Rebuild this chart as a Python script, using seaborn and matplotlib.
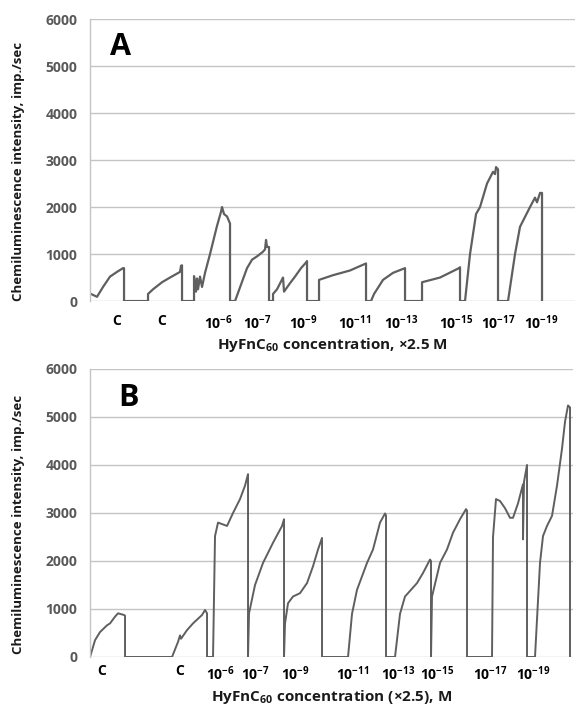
import matplotlib

matplotlib.use("Agg")

import matplotlib.pyplot as plt
import seaborn as sns

# Panel A trace: time (arbitrary units) and chemiluminescence intensity (imp./sec)
a_time = [0, 7, 13, 20, 27, 33, 34, 34, 58, 58, 63, 72, 80, 90, 91, 92, 92,
          104, 104, 106, 107, 108, 110, 112, 115, 120, 127, 131, 132, 134, 137, 139, 140, 140,
          145, 157, 162, 167, 170, 173, 175, 176, 177, 179, 179,
          183, 183, 187, 193, 194, 200, 205, 211, 216, 217, 217,
          229, 229, 243, 260, 276, 276,
          281, 284, 293, 303, 315, 315,
          332, 332, 350, 369, 370, 370,
          375, 380, 386, 390, 397, 403, 405, 406, 408, 408,
          418, 425, 430, 440, 445, 447, 450, 452, 452]
a_signal = [160, 90, 300, 520, 620, 700, 700, 0, 0, 150, 250, 400, 500, 620, 750, 760, 0,
            0, 530, 200, 480, 250, 520, 300, 600, 1000, 1600, 1900, 2000, 1850, 1800, 1700, 1650, 0,
            0, 700, 880, 950, 1000, 1050, 1100, 1300, 1150, 1150, 0,
            0, 150, 250, 500, 200, 380, 520, 700, 820, 850, 0,
            0, 450, 550, 650, 800, 0,
            0, 150, 450, 600, 700, 0,
            0, 400, 500, 700, 720, 0,
            0, 1000, 1850, 2000, 2500, 2750, 2700, 2850, 2800, 0,
            0, 1000, 1580, 2000, 2200, 2100, 2300, 2300, 0]

# Panel B trace
b_time = [0, 5, 10, 17, 20, 25, 28, 34, 35, 35,
          82, 88, 90, 91, 97, 103, 112, 115, 117, 117,
          123, 125, 128, 137, 143, 150, 155, 158, 158,
          159, 165, 173, 183, 192, 194, 194,
          195, 198, 203, 210, 217, 223, 228, 232, 232,
          258, 262, 267, 277, 283, 290, 295, 296, 296,
          305, 310, 315, 327, 333, 340, 341, 341,
          342, 350, 357, 363, 370, 376, 377, 377,
          402, 403, 406, 410, 415, 420, 423, 428, 433, 433, 434, 437, 437,
          445, 450, 453, 457, 462, 467, 472, 475, 478, 480, 480]
b_signal = [0, 350, 520, 660, 700, 840, 910, 875, 860, 0,
            0, 315, 450, 380, 560, 700, 875, 980, 910, 0,
            0, 2520, 2800, 2730, 3000, 3290, 3570, 3810, 0,
            910, 1500, 1960, 2380, 2730, 2870, 0,
            700, 1120, 1260, 1330, 1540, 1890, 2240, 2480, 0,
            0, 900, 1400, 1960, 2240, 2800, 2990, 2950, 0,
            0, 900, 1260, 1540, 1750, 2030, 2000, 0,
            1260, 1960, 2240, 2590, 2870, 3080, 3050, 0,
            0, 2500, 3290, 3250, 3100, 2900, 2900, 3200, 3600, 2450, 3650, 4000, 0,
            0, 1960, 2520, 2730, 2940, 3570, 4340, 4900, 5240, 5200, 0]

a_tick_pos = [27, 72, 128, 167, 213, 265, 311, 366, 408, 451]
a_tick_labels = ["C", "C", r"10$^{\mathbf{-6}}$", r"10$^{\mathbf{-7}}$", r"10$^{\mathbf{-9}}$",
                 r"10$^{\mathbf{-11}}$", r"10$^{\mathbf{-13}}$", r"10$^{\mathbf{-15}}$",
                 r"10$^{\mathbf{-17}}$", r"10$^{\mathbf{-19}}$"]
b_tick_pos = [12, 90, 130, 165, 205, 263, 308, 347, 400, 443]
b_tick_labels = a_tick_labels

y_ticks = [0, 1000, 2000, 3000, 4000, 5000, 6000]

LINE = "#5f5f5f"
GRID = "#c4c4c4"


def style_axes(ax, xmax, ticks, labels, xlabel, letter, letter_xy, tick_pad, label_pad):
    ax.set_xlim(0, xmax)
    ax.set_ylim(0, 6000)
    ax.set_yticks(y_ticks)
    ax.set_yticklabels([str(v) for v in y_ticks], color="#595959", fontweight="bold", fontsize=10)
    ax.set_xticks(ticks)
    ax.set_xticklabels(labels, fontweight="bold", fontsize=10, color="black")
    ax.tick_params(axis="x", length=0, pad=tick_pad)
    ax.tick_params(axis="y", length=4, width=1, color=GRID, pad=5)
    ax.grid(axis="y", color=GRID, lw=1)
    ax.grid(axis="x", visible=False)
    for side in ["top", "right", "bottom"]:
        ax.spines[side].set_visible(False)
    ax.spines["left"].set_color(GRID)
    ax.spines["left"].set_linewidth(1)
    ax.set_xlabel(xlabel, fontweight="bold", fontsize=11, color="#1a1a1a", labelpad=label_pad)
    ax.set_ylabel("Chemiluminescence intensity, imp./sec", fontweight="bold", fontsize=9.5,
                  color="#1a1a1a", va="center")
    ax.yaxis.set_label_coords(-0.148, 0.46)
    ax.text(letter_xy[0], letter_xy[1], letter, transform=ax.transAxes, fontsize=22,
            fontweight="bold", ha="left", va="top", color="black")


def main() -> None:
    sns.set_theme(style="white")
    plt.rcParams["font.family"] = ["Open Sans", "DejaVu Sans"]
    plt.rcParams["mathtext.fontset"] = "custom"
    plt.rcParams["mathtext.rm"] = "Open Sans"
    plt.rcParams["mathtext.bf"] = "Open Sans:bold"

    fig = plt.figure(figsize=(5.76, 7.05), dpi=100)
    ax_a = fig.add_axes([0.1563, 0.573, 0.842, 0.40])
    ax_b = fig.add_axes([0.1563, 0.0681, 0.8385, 0.4085])

    sns.lineplot(x=a_time, y=a_signal, sort=False, estimator=None, ax=ax_a, color=LINE, lw=1.6)
    sns.lineplot(x=b_time, y=b_signal, sort=False, estimator=None, ax=ax_b, color=LINE, lw=1.4)

    style_axes(ax_a, 485, a_tick_pos, a_tick_labels,
               r"HyFnC$_{\mathbf{60}}$ concentration, ×2.5 M", "A", (0.041, 0.955), 9, 3)
    style_axes(ax_b, 483, b_tick_pos, b_tick_labels,
               r"HyFnC$_{\mathbf{60}}$ concentration (×2.5), M", "B", (0.058, 0.952), 5, 4)

    fig.savefig("out.png", dpi=100)
    plt.close(fig)


if __name__ == "__main__":
    main()
